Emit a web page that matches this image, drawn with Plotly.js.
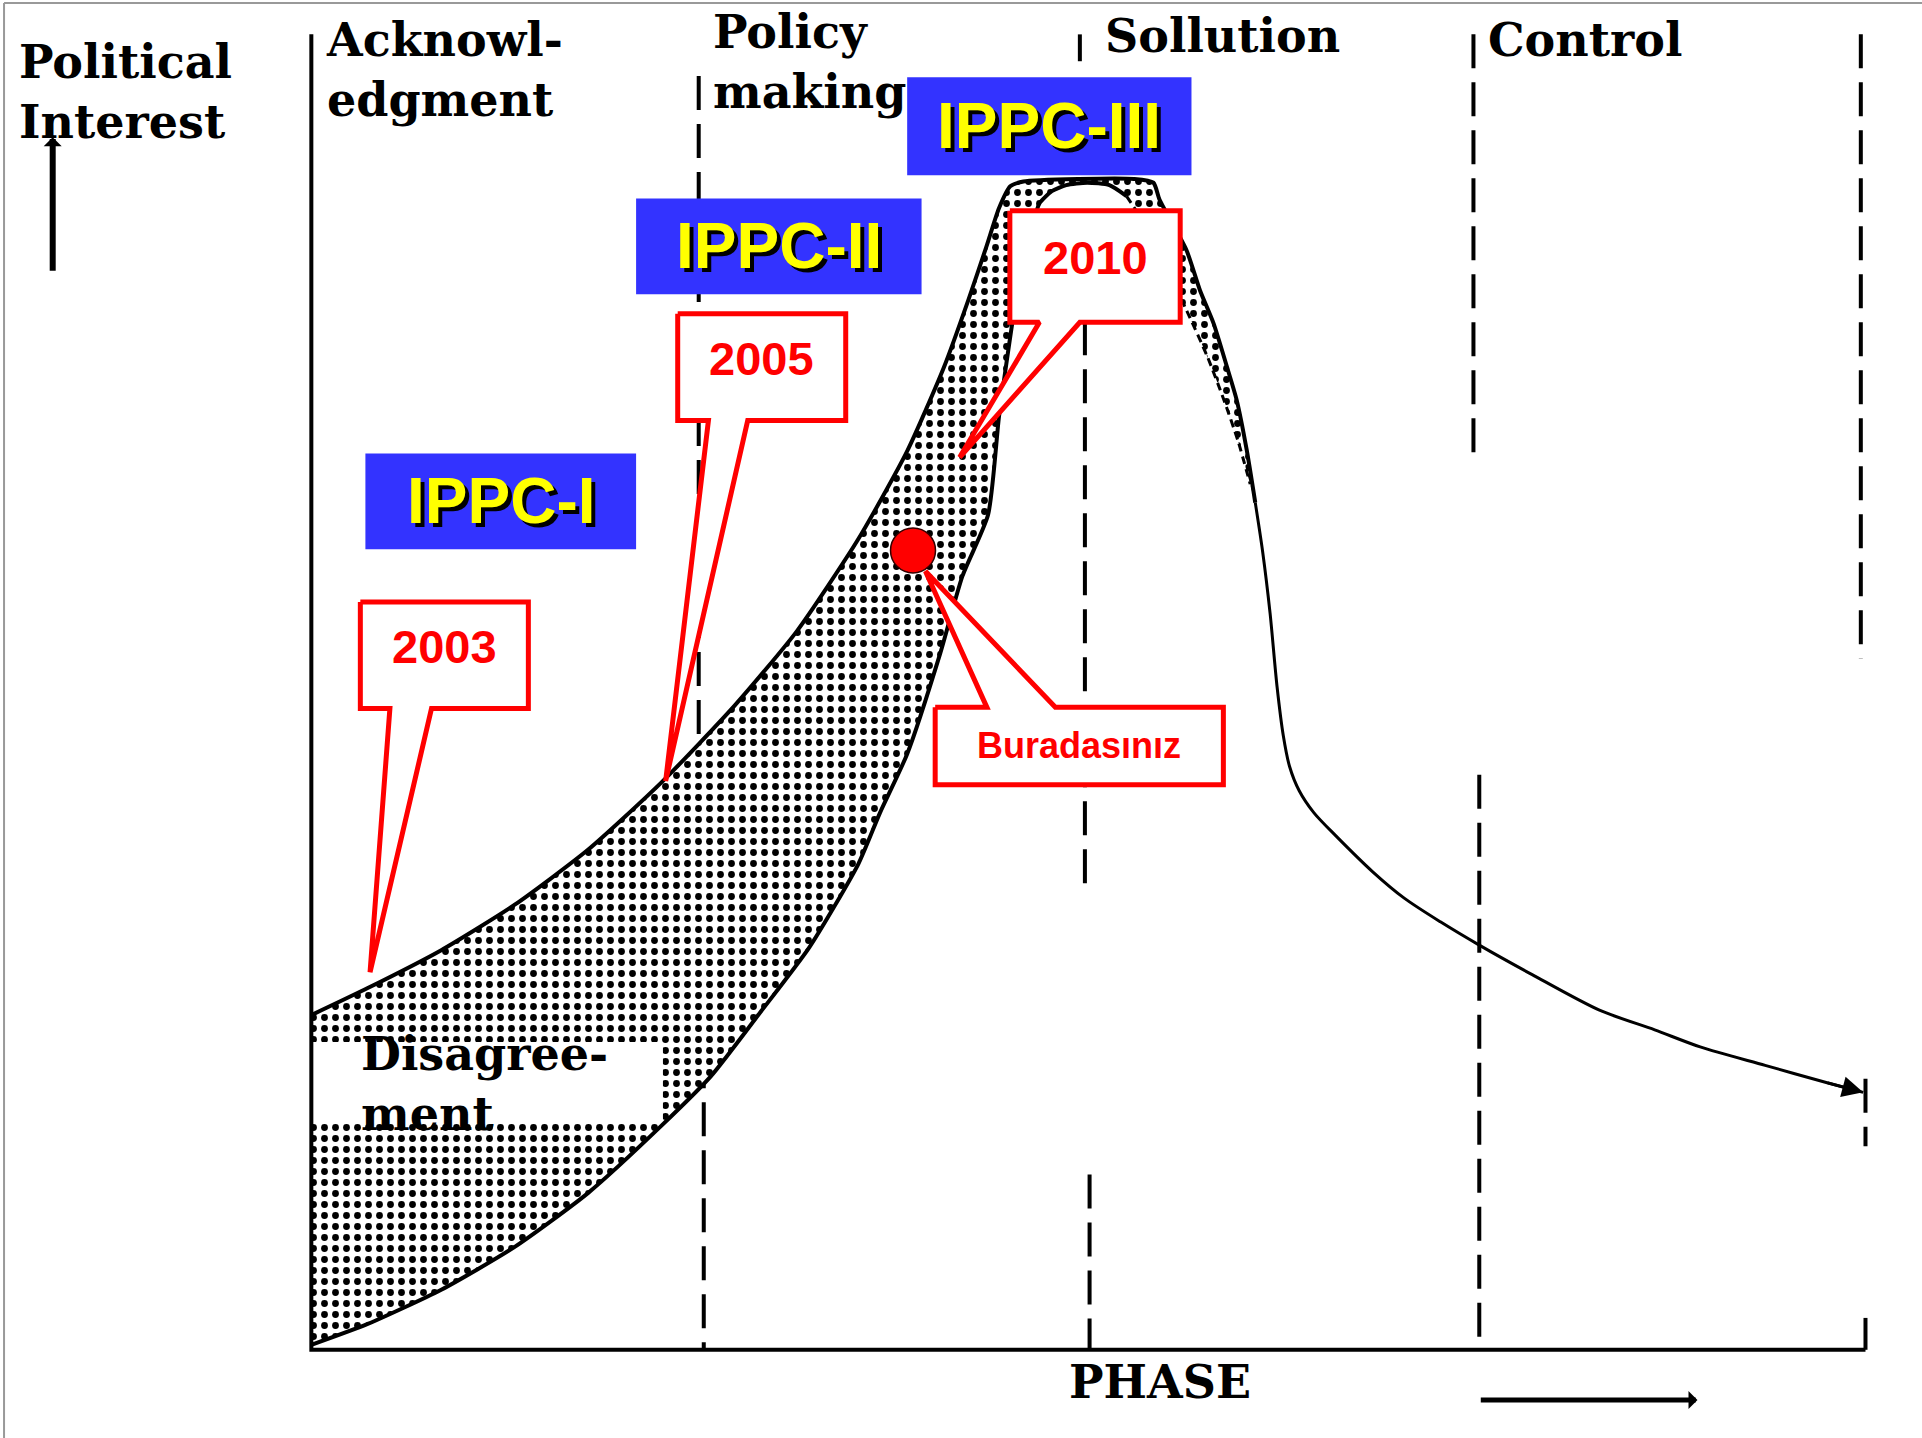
<!DOCTYPE html>
<html><head><meta charset="utf-8">
<script src="https://cdn.plot.ly/plotly-3.0.1.min.js"></script>
<style>html,body{margin:0;padding:0;background:#fff;}#chart{width:1922px;height:1438px;}</style>
</head><body><div id="chart"></div>
<script>
// ---- data (x = phase units, y = political interest units) ----
const bandOuterX = [0, 0.145, 0.334, 0.523, 0.712, 0.901, 1.090, 1.248, 1.406, 1.532, 1.626, 1.689, 1.737, 1.768, 1.797, 1.831, 1.973, 2.115, 2.165, 2.181, 2.250, 2.285, 2.320, 2.354, 2.379, 2.405, 2.427];
const bandOuterY = [25.42, 27.47, 30.35, 33.80, 37.99, 43.11, 48.98, 54.56, 61.55, 68.25, 74.58, 79.70, 83.89, 86.69, 88.36, 88.73, 88.92, 88.92, 88.64, 87.34, 83.52, 80.45, 77.93, 74.67, 72.16, 68.34, 64.34];
const bandInnerX = [0, 0.145, 0.334, 0.523, 0.712, 0.901, 1.027, 1.154, 1.280, 1.406, 1.462, 1.532, 1.617, 1.674, 1.740, 1.768, 1.790, 1.809, 1.834, 1.853, 1.872, 1.904, 1.941, 1.995, 2.052, 2.096];
const bandInnerY = [0.37, 1.96, 4.56, 7.82, 11.92, 17.04, 20.76, 25.61, 30.54, 36.87, 40.78, 45.25, 52.89, 58.75, 63.41, 70.86, 75.51, 79.24, 82.96, 85.29, 87.06, 87.99, 88.45, 88.64, 88.45, 87.62];
const innerRightX = [2.096, 2.137, 2.193, 2.250, 2.304, 2.345, 2.383, 2.414];
const innerRightY = [87.62, 85.75, 82.50, 78.96, 75.42, 72.25, 68.99, 65.74];
const declineX = [2.427, 2.446, 2.465, 2.483, 2.499, 2.515, 2.540, 2.578, 2.635, 2.729, 2.810, 2.903, 3.003, 3.139, 3.312, 3.454, 3.571, 3.738, 3.895, 3.990];
const declineY = [64.34, 60.61, 55.96, 50.37, 46.65, 44.32, 42.46, 40.78, 39.01, 36.30, 34.30, 32.50, 30.73, 28.49, 25.79, 24.30, 23.00, 21.60, 20.30, 19.55];
const gapX = [0, 0.904];
const gapY = [17.23, 23.37];

const boundaryX      = [0.996, 1.009, 1.976, 1.989, 2.001, 2.988, 3.003, 3.984, 3.996, 3.996];
const boundaryTop    = [96.74, 22.44, 99.90, 78.12, 13.31, 99.90, 43.67, 99.90, 20.58, 2.42];
const boundaryBottom = [46.65, 0,     97.86, 35.29, 0,     68.06, 0,     52.50, 15.46, 0];
const axisX = [0, 0, 3.996];
const axisY = [99.9, 0, 0];

const phaseNames = ['Acknowl-<br>edgment', 'Policy<br>making', 'Sollution', 'Control'];
const phaseNameX = [0.033, 1.027, 2.036, 3.019];
const phaseNameY = [97.17, 97.78, 99.78, 99.50];
const yTitle = 'Political<br>Interest';
const yTitlePos = [-0.756, 95.54];
const yArrow = {x: -0.665, from: 81.84, to: 92.09};
const xTitle = 'PHASE';
const xTitlePos = [2.181, -2.46];
const xArrow = {y: -3.82, from: 3.003, to: 3.564};
const disagreeText = 'Disagree-<br>ment';
const disagreePos = [0.123, 20.16];

const ippcLabels = ['IPPC-I', 'IPPC-II', 'IPPC-III'];
const ippcX0 = [0.139, 0.835, 1.532];
const ippcX1 = [0.835, 1.569, 2.263];
const ippcY0 = [60.80, 80.17, 89.20];
const ippcY1 = [68.06, 87.43, 96.65];

const calloutLabels = ['2003', '2005', '2010', 'Buradasınız'];
const calloutX0 = [0.126, 0.942, 1.796, 1.604];
const calloutX1 = [0.558, 1.374, 2.234, 2.345];
const calloutY0 = [48.70, 70.58, 78.03, 42.92];
const calloutY1 = [56.80, 78.68, 86.50, 48.79];
const tailLeft  = [0.202, 1.021, 1.872, 1.737];
const tailRight = [0.309, 1.122, 1.976, 1.913];
const tipX = [0.151, 0.911, 1.667, 1.579];
const tipY = [28.68, 43.20, 67.78, 59.12];
const tailSide = ['bottom', 'bottom', 'bottom', 'top'];
const herePoint = {x: 1.547, y: 60.71};

// ---- build traces ----
const traces = [];
const bx = [], by = [];
boundaryX.forEach((x, i) => { bx.push(x, x, null); by.push(boundaryTop[i], boundaryBottom[i], null); });
traces.push({x: bx, y: by, mode: 'lines', line: {color: 'black', width: 4, dash: '34px,14px'}, hoverinfo: 'skip'});

const polyX = bandOuterX.concat(innerRightX.slice().reverse(), bandInnerX.slice().reverse());
const polyY = bandOuterY.concat(innerRightY.slice().reverse(), bandInnerY.slice().reverse());
traces.push({x: polyX, y: polyY, mode: 'lines', fill: 'toself', fillcolor: 'white', line: {width: 0, shape: 'spline', smoothing: 0.6},
  fillpattern: {shape: '.', size: 11, solidity: 0.3, fgcolor: 'black', bgcolor: 'white'}, hoverinfo: 'skip'});
traces.push({x: [gapX[0], gapX[1], gapX[1], gapX[0], gapX[0]], y: [gapY[0], gapY[0], gapY[1], gapY[1], gapY[0]],
  mode: 'lines', fill: 'toself', fillcolor: 'white', line: {width: 0}, hoverinfo: 'skip'});
const curve = {color: 'black', width: 4, shape: 'spline', smoothing: 0.6};
traces.push({x: bandOuterX, y: bandOuterY, mode: 'lines', line: curve, hoverinfo: 'skip'});
traces.push({x: bandInnerX, y: bandInnerY, mode: 'lines', line: curve, hoverinfo: 'skip'});
traces.push({x: innerRightX, y: innerRightY, mode: 'lines', line: {color: 'black', width: 3, dash: '8px,5px', shape: 'spline', smoothing: 0.6}, hoverinfo: 'skip'});
traces.push({x: declineX, y: declineY, mode: 'lines', line: {color: 'black', width: 3, shape: 'spline', smoothing: 0.8}, hoverinfo: 'skip'});
traces.push({x: axisX, y: axisY, mode: 'lines', line: {color: 'black', width: 4}, hoverinfo: 'skip'});

calloutLabels.forEach((lab, i) => {
  const x0 = calloutX0[i], x1 = calloutX1[i], y0 = calloutY0[i], y1 = calloutY1[i];
  let px, py;
  if (tailSide[i] === 'bottom') {
    px = [x0, x1, x1, tailRight[i], tipX[i], tailLeft[i], x0, x0];
    py = [y1, y1, y0, y0, tipY[i], y0, y0, y1];
  } else {
    px = [x0, tailLeft[i], tipX[i], tailRight[i], x1, x1, x0, x0];
    py = [y1, y1, tipY[i], y1, y1, y0, y0, y1];
  }
  traces.push({x: px, y: py, mode: 'lines', fill: 'toself', fillcolor: 'white',
    line: {color: '#FF0000', width: 5}, hoverinfo: 'skip'});
});
traces.push({x: [herePoint.x], y: [herePoint.y], mode: 'markers',
  marker: {size: 45, color: '#FF0000', line: {color: '#300', width: 1.5}}, hoverinfo: 'skip'});

// ---- annotations ----
const ann = [];
const serif = {family: 'DejaVu Serif, serif', size: 46, color: 'black'};
phaseNames.forEach((t, i) => ann.push({x: phaseNameX[i], y: phaseNameY[i], text: '<b>' + t.replace('<br>', '</b><br><b>') + '</b>',
  showarrow: false, xanchor: 'left', yanchor: 'middle', align: 'left', font: serif}));
ann.push({x: yTitlePos[0], y: yTitlePos[1], text: '<b>' + yTitle.replace('<br>', '</b><br><b>') + '</b>', showarrow: false,
  xanchor: 'left', yanchor: 'middle', align: 'left', font: serif});
ann.push({x: disagreePos[0], y: disagreePos[1], text: '<b>' + disagreeText.replace('<br>', '</b><br><b>') + '</b>', showarrow: false,
  xanchor: 'left', yanchor: 'middle', align: 'left', font: serif});
ann.push({x: xTitlePos[0], y: xTitlePos[1], text: '<b>' + xTitle + '</b>', showarrow: false, xanchor: 'center', yanchor: 'middle', font: serif});
ann.push({x: yArrow.x, y: yArrow.to, ax: yArrow.x, ay: yArrow.from, axref: 'x', ayref: 'y', text: '', showarrow: true,
  arrowhead: 1, arrowsize: 0.5, arrowwidth: 6, arrowcolor: 'black'});
ann.push({x: xArrow.to, y: xArrow.y, ax: xArrow.from, ay: xArrow.y, axref: 'x', ayref: 'y', text: '', showarrow: true,
  arrowhead: 1, arrowsize: 0.6, arrowwidth: 5, arrowcolor: 'black'});
const n = declineX.length;
ann.push({x: declineX[n - 1], y: declineY[n - 1], ax: declineX[n - 2], ay: declineY[n - 2], axref: 'x', ayref: 'y', text: '',
  showarrow: true, arrowhead: 2, arrowsize: 1.4, arrowwidth: 3, arrowcolor: 'black'});

const shapes = [];
ippcLabels.forEach((t, i) => {
  shapes.push({type: 'rect', xref: 'x', yref: 'y', x0: ippcX0[i], x1: ippcX1[i], y0: ippcY0[i], y1: ippcY1[i],
    fillcolor: '#3333FF', line: {width: 0}, layer: 'above'});
  const cx = (ippcX0[i] + ippcX1[i]) / 2, cy = (ippcY0[i] + ippcY1[i]) / 2;
  ann.push({x: cx, y: cy, text: '<b>' + t + '</b>', showarrow: false,
    font: {family: 'Liberation Sans, Arial, sans-serif', size: 64, color: '#FFFF00', shadow: '4px 4px 0px #000'}});
});
calloutLabels.forEach((t, i) => {
  const cx = (calloutX0[i] + calloutX1[i]) / 2, cy = (calloutY0[i] + calloutY1[i]) / 2;
  const small = i === 3;
  ann.push({x: cx, y: cy, yshift: small ? 0 : 9, text: '<b>' + t + '</b>', showarrow: false,
    font: {family: 'Liberation Sans, Arial, sans-serif', size: small ? 36 : 47, color: '#FF0000'}});
});

shapes.push({type: 'line', xref: 'paper', yref: 'paper', x0: 0.0021, x1: 1, y0: 0.998, y1: 0.998, line: {color: '#999', width: 2}});
shapes.push({type: 'line', xref: 'paper', yref: 'paper', x0: 0.0021, x1: 0.0021, y0: 0, y1: 0.998, line: {color: '#999', width: 2}});

const layout = {
  width: 1922, height: 1438, margin: {l: 0, r: 0, t: 0, b: 0},
  paper_bgcolor: 'white', plot_bgcolor: 'white', showlegend: false,
  xaxis: {range: [-0.8005, 4.1413], visible: false, fixedrange: true},
  yaxis: {range: [-6.70, 102.51], visible: false, fixedrange: true},
  annotations: ann, shapes: shapes
};
Plotly.newPlot('chart', traces, layout, {displayModeBar: false, staticPlot: true});
</script></body></html>
